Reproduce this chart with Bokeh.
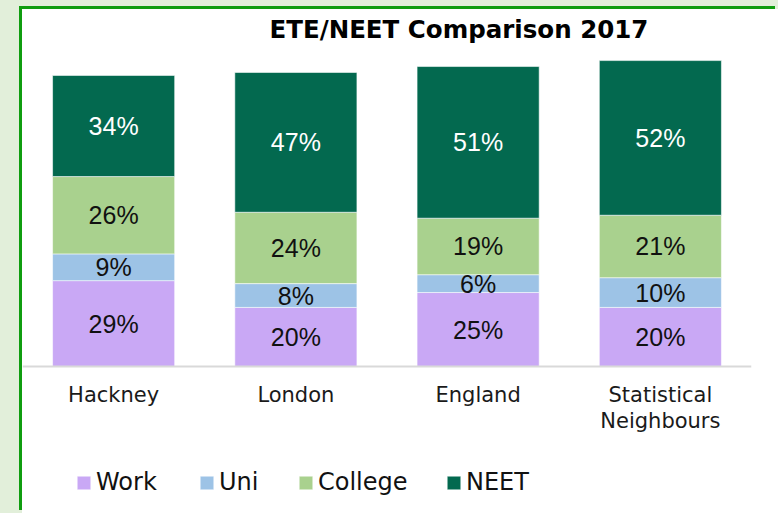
from bokeh.plotting import figure
from bokeh.layouts import column
from bokeh.models import Legend, LegendItem, ColumnDataSource, FactorRange, Range1d
from bokeh.core.properties import value
from bokeh.embed import file_html
from bokeh.resources import INLINE

# ---- data ----
areas = ["Hackney", "London", "England", "Statistical\nNeighbours"]
series = ["Work", "Uni", "College", "NEET"]
work = [29, 20, 25, 20]
uni = [9, 8, 6, 10]
college = [26, 24, 19, 21]
neet = [34, 47, 51, 52]
title_text = "ETE/NEET Comparison 2017"

colors = ["#c9a8f5", "#9dc3e6", "#a9d18e", "#03694f"]
label_colors = ["#111111", "#111111", "#111111", "#ffffff"]

W, H = 756, 504
p = figure(x_range=FactorRange(*areas), y_range=Range1d(-49.3, 107.4),
           width=W, height=H, output_backend="svg", toolbar_location=None,
           min_border_left=0, min_border_right=27, min_border_top=37,
           min_border_bottom=0, border_fill_color="white",
           background_fill_color="white", outline_line_color=None,
           margin=(9, 0, 0, 22),
           styles={"box-shadow": "-3px -3px 0 0 #0f9d0f",
                   "background-color": "white"})

src = ColumnDataSource(dict(area=areas, Work=work, Uni=uni, College=college, NEET=neet))
rs = p.vbar_stack(series, x="area", width=0.67, fill_color=colors,
                  line_color="white", line_width=0.8, line_alpha=0.7, source=src)

# segment labels
lx, ly, lt, lc = [], [], [], []
stacks = [work, uni, college, neet]
for i, a in enumerate(areas):
    base = 0
    for vals, tc in zip(stacks, label_colors):
        v = vals[i]
        lx.append(a)
        ly.append(base + v / 2)
        lt.append(f"{v}%")
        lc.append(tc)
        base += v
p.text(x="x", y="y", text="t", text_color="c",
       source=ColumnDataSource(dict(x=lx, y=ly, t=lt, c=lc)),
       text_align="center", text_baseline="middle",
       text_font=value("Liberation Sans"), text_font_size="25px")

# title
p.title.text = title_text
p.title.align = "left"
p.title.offset = 247
p.title.standoff = 7
p.title.text_font = "DejaVu Sans"
p.title.text_font_style = "bold"
p.title.text_font_size = "24.5px"
p.title.text_color = "#000000"

# axes
p.yaxis.visible = False
p.xgrid.visible = False
p.ygrid.visible = False
ax = p.xaxis[0]
ax.fixed_location = 0
ax.axis_line_color = "#d9d9d9"
ax.axis_line_width = 2
ax.major_tick_line_color = None
ax.minor_tick_line_color = None
ax.major_tick_in = 0
ax.major_tick_out = 0
ax.major_label_standoff = 16
ax.major_label_text_font = "DejaVu Sans"
ax.major_label_text_font_size = "21px"
ax.major_label_text_line_height = 1.1
ax.major_label_text_color = "#1a1a1a"

# legend: one entry per box so each sits where the reference shows it
legend_x = [53, 176, 275, 423]
for s, r, lxp in zip(series, rs, legend_x):
    lg = Legend(items=[LegendItem(label=s, renderers=[r])],
                orientation="horizontal", location=(lxp, 17),
                glyph_width=17, glyph_height=17, label_standoff=4,
                padding=0, margin=0, border_line_color=None,
                background_fill_alpha=0,
                label_text_font="DejaVu Sans", label_text_font_size="24px",
                label_text_color="#111111")
    p.add_layout(lg)

page = column(p, styles={"background-color": "#e2efda"})

open("out.html", "w").write(file_html(page, INLINE))
